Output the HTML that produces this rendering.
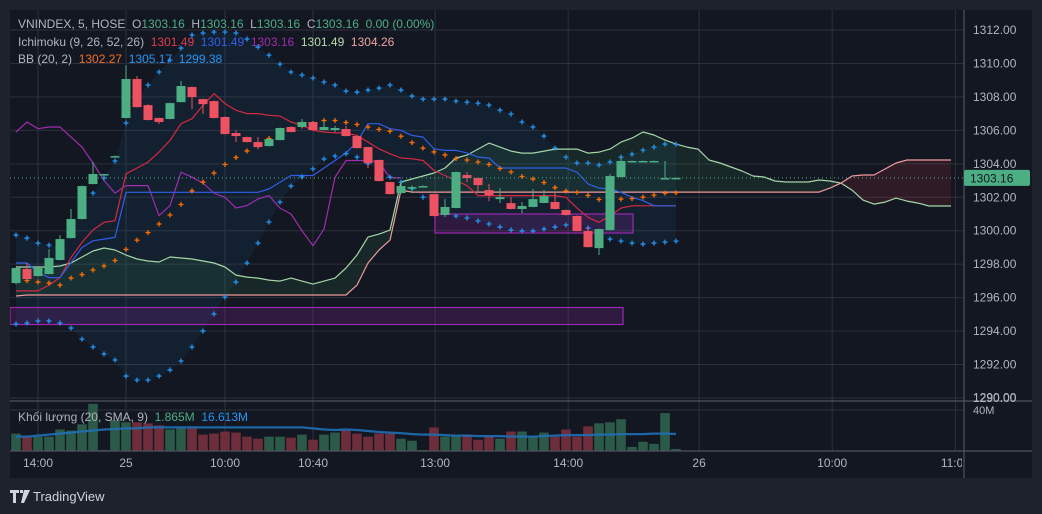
<!DOCTYPE html>
<html><head><meta charset="utf-8"><style>
html,body{margin:0;padding:0;background:#1e222d;width:1042px;height:514px;overflow:hidden}
svg{display:block;font-family:"Liberation Sans","Noto Sans CJK JP",sans-serif}
.lg text{white-space:pre}
</style></head><body>
<svg id="chart" width="1042" height="514" viewBox="0 0 1042 514">
<defs>
<clipPath id="plotClip"><rect x="10" y="10" width="954" height="391"/></clipPath>
<clipPath id="volClip"><rect x="10" y="402" width="954" height="49"/></clipPath>
<clipPath id="timeClip"><rect x="10" y="452" width="952" height="26"/></clipPath>
</defs>
<rect x="0" y="0" width="1042" height="514" fill="#1e222d"/>
<rect x="10" y="10" width="1022" height="468" fill="#131722"/>
<g id="grid"></g>
<g id="plot" clip-path="url(#plotClip)"></g>
<g id="vol" clip-path="url(#volClip)"></g>
<g id="axes"></g>
<g id="time" clip-path="url(#timeClip)"></g>
<g class="lg" font-size="12">
<text x="18" y="28"><tspan fill="#b2b5be">VNINDEX, 5, HOSE  O</tspan><tspan fill="#4caf84">1303.16</tspan><tspan fill="#b2b5be">  H</tspan><tspan fill="#4caf84">1303.16</tspan><tspan fill="#b2b5be">  L</tspan><tspan fill="#4caf84">1303.16</tspan><tspan fill="#b2b5be">  C</tspan><tspan fill="#4caf84">1303.16  0.00 (0.00%)</tspan></text>
<text x="18" y="46"><tspan fill="#b2b5be">Ichimoku (9, 26, 52, 26)  </tspan><tspan fill="#e03a4e">1301.49  </tspan><tspan fill="#2f5fe8">1301.49  </tspan><tspan fill="#a02cb0">1303.16  </tspan><tspan fill="#b7dcb0">1301.49  </tspan><tspan fill="#f0a3a3">1304.26</tspan></text>
<text x="18" y="63"><tspan fill="#b2b5be">BB (20, 2)  </tspan><tspan fill="#f07020">1302.27  </tspan><tspan fill="#2196f3">1305.17  1299.38</tspan></text>
<text x="18" y="421"><tspan fill="#b2b5be">Khối lượng (20, SMA, 9)  </tspan><tspan fill="#4caf84">1.865M  </tspan><tspan fill="#2196f3">16.613M</tspan></text>
</g>
<g>
<path d="M10 490h9v3h-3v10h-3v-10h-3z M20 490h3v3h-3z M24 490h6l-6 13h-3z" fill="#d1d4dc"/>
<text x="33" y="501" font-size="13" fill="#d1d4dc">TradingView</text>
</g>
</svg>
<script>
const opens=[1296.87,1297.71,1297.29,1297.41,1298.25,1299.56,1300.70,1302.79,1303.39,1304.46,1306.74,1309.07,1307.51,1306.74,1306.68,1307.69,1308.59,1307.87,1307.75,1306.80,1305.84,1305.60,1305.30,1305.06,1305.42,1306.20,1306.20,1306.50,1306.02,1306.02,1306.08,1305.66,1305.00,1304.23,1302.91,1302.25,1302.61,1302.67,1302.19,1300.94,1301.36,1303.33,1303.15,1302.43,1301.89,1301.65,1301.30,1301.42,1301.66,1301.72,1301.24,1300.88,1299.98,1298.96,1300.04,1303.21,1304.17,1304.17,1304.17,1303.15,1303.16];
const closes=[1297.77,1297.11,1297.77,1298.37,1299.50,1300.70,1302.67,1303.39,1303.39,1304.46,1309.07,1307.39,1306.62,1306.50,1307.63,1308.65,1307.99,1307.57,1306.74,1305.78,1305.66,1305.30,1305.00,1305.48,1306.14,1305.90,1306.50,1306.02,1306.20,1306.14,1305.66,1304.94,1304.05,1302.97,1302.19,1302.67,1302.61,1302.67,1300.88,1301.42,1303.51,1303.15,1302.73,1302.13,1302.01,1301.30,1301.48,1301.89,1302.07,1301.30,1300.94,1299.98,1299.02,1300.10,1303.27,1304.17,1304.17,1304.17,1304.17,1303.15,1303.16];
const highs=[1297.80,1298.07,1297.80,1298.90,1299.74,1301.30,1302.70,1304.10,1303.40,1304.50,1309.90,1309.25,1307.55,1306.76,1307.66,1308.95,1308.62,1307.90,1307.78,1306.82,1306.00,1305.62,1305.60,1305.50,1306.16,1306.22,1306.68,1306.52,1306.56,1306.26,1306.26,1305.68,1305.02,1304.25,1302.93,1302.91,1302.70,1302.70,1302.21,1301.90,1303.53,1303.51,1303.17,1302.79,1302.55,1302.01,1301.72,1302.49,1302.43,1302.25,1301.26,1300.90,1300.22,1300.12,1303.39,1304.40,1304.19,1304.19,1304.19,1304.17,1303.18];
const lows=[1296.80,1297.09,1297.27,1297.39,1298.23,1299.54,1300.68,1302.77,1303.37,1304.44,1306.70,1307.37,1306.60,1306.38,1306.66,1307.67,1307.27,1306.98,1306.72,1305.76,1305.30,1305.28,1304.88,1305.04,1305.40,1305.88,1306.18,1306.00,1306.00,1305.90,1305.64,1304.92,1303.75,1302.95,1302.17,1302.23,1302.25,1302.65,1300.86,1300.82,1301.34,1302.91,1302.37,1301.77,1301.65,1301.28,1301.06,1301.40,1301.64,1301.28,1300.92,1299.96,1299.00,1298.55,1300.02,1303.19,1304.15,1304.15,1304.15,1303.13,1303.14];
const volumes=[17,14,14,14,21,20,26,46,1,30,28,28,27,25,21,22,22,16,17,19,18,14,12,14,14,13,16,11,16,18,20,17,14,17,17,12,10,1,23,14,15,16,11,15,12,19,19,14,18,14,21,14,24,27,28,31,4,9,7,37,2];
const volSma=[14,14,15,16,17,18,19,20,21,21.5,22,22,23,23,23,23,23,23,23,23,23,23,23,23,23,23,23,22,21,20.5,21,20.5,19.5,18.5,18,17.5,16.5,16,16,15.5,15,15,14.5,14.5,14.5,14,14,14,14.5,15,15.5,15.5,15.5,16,16,16.5,16.5,16.5,17,17,16.6];
const tenkan=[1296.4,1296.4,1296.4,1296.75,1297.2,1298.4,1299.3,1300.05,1300.5,1300.6,1303.4,1303.75,1304.1,1304.7,1305.4,1306.4,1306.7,1307.5,1308.2,1307.6,1307.2,1307.0,1307.0,1306.9,1306.85,1306.5,1306.3,1306.0,1305.9,1305.85,1305.85,1305.7,1305.3,1304.9,1304.6,1304.35,1304.3,1304.2,1303.6,1303.3,1303.0,1302.7,1302.1,1302.1,1302.1,1302.1,1302.1,1302.1,1302.1,1302.1,1302.0,1301.35,1300.8,1300.5,1300.9,1301.35,1301.49,1301.49,1301.49,1301.49,1301.49];
const kijun=[1298.07,1298.07,1297.5,1297.2,1297.2,1298.1,1299.0,1299.4,1299.5,1299.6,1302.3,1302.3,1302.3,1302.3,1302.3,1302.3,1302.3,1302.3,1302.3,1302.3,1302.3,1302.3,1302.3,1302.5,1302.9,1303.3,1303.3,1303.3,1303.75,1304.2,1304.65,1305.3,1306.4,1306.4,1306.1,1306.0,1305.7,1305.6,1304.9,1304.8,1304.8,1304.65,1304.4,1304.35,1303.75,1303.75,1303.75,1303.75,1303.75,1303.75,1303.75,1303.5,1302.8,1302.55,1302.5,1302.3,1302.0,1301.8,1301.49,1301.49,1301.49];
const chikou=[1305.9,1306.5,1306.1,1306.2,1306.2,1305.6,1305.0,1304.05,1303.0,1302.25,1302.7,1302.7,1302.7,1300.9,1301.5,1303.5,1303.2,1302.85,1302.25,1302.0,1301.35,1301.5,1301.9,1302.1,1301.35,1301.0,1300.0,1299.1,1300.1,1303.2,1304.2,1304.2,1304.2,1304.1,1303.16,1303.16];
const spanA=[1297.83,1297.83,1297.83,1297.83,1297.89,1298.07,1298.43,1298.79,1298.97,1298.85,1298.55,1298.31,1298.19,1298.13,1298.43,1298.37,1298.31,1298.19,1298.07,1297.83,1297.35,1297.23,1297.17,1297.05,1296.99,1297.17,1296.99,1296.81,1296.99,1297.17,1297.77,1298.55,1299.62,1299.80,1300.04,1302.91,1303.09,1303.27,1303.45,1303.75,1304.35,1304.52,1304.88,1305.24,1305.00,1304.76,1304.64,1304.64,1304.76,1304.88,1304.88,1304.88,1304.64,1304.70,1304.88,1305.30,1305.54,1305.90,1305.72,1305.42,1305.18,1305.00,1304.88,1304.23,1304.05,1303.81,1303.57,1303.27,1303.21,1302.97,1302.91,1302.91,1302.91,1303.03,1302.97,1302.85,1302.43,1301.83,1301.59,1301.71,1301.95,1301.77,1301.65,1301.48,1301.48,1301.48];
const spanB=[1296.10,1296.16,1296.16,1296.16,1296.16,1296.16,1296.16,1296.16,1296.16,1296.16,1296.16,1296.16,1296.16,1296.16,1296.16,1296.16,1296.16,1296.16,1296.16,1296.16,1296.16,1296.16,1296.16,1296.16,1296.16,1296.16,1296.16,1296.16,1296.16,1296.16,1296.16,1296.75,1298.07,1298.85,1299.44,1302.43,1302.31,1302.31,1302.31,1302.31,1302.31,1302.31,1302.31,1302.31,1302.31,1302.31,1302.31,1302.31,1302.31,1302.31,1302.31,1302.31,1302.31,1302.31,1302.31,1302.31,1302.31,1302.31,1302.31,1302.31,1302.31,1302.31,1302.31,1302.31,1302.31,1302.31,1302.31,1302.31,1302.31,1302.31,1302.31,1302.31,1302.31,1302.31,1302.55,1302.85,1303.27,1303.33,1303.33,1303.69,1304.05,1304.23,1304.23,1304.23,1304.23,1304.23];
const bbUpper=[1299.74,1299.56,1299.26,1299.14,1299.02,1300.16,1301.24,1302.25,1303.15,1304.17,1306.44,1307.81,1308.71,1309.49,1310.20,1310.92,1311.70,1311.82,1311.88,1311.88,1311.82,1311.46,1310.98,1310.50,1309.96,1309.49,1309.31,1309.13,1308.89,1308.71,1308.35,1308.29,1308.41,1308.53,1308.71,1308.41,1308.05,1307.87,1307.87,1307.87,1307.75,1307.69,1307.63,1307.51,1307.21,1306.98,1306.50,1306.20,1305.66,1304.94,1304.40,1304.05,1304.05,1303.93,1304.11,1304.40,1304.58,1304.82,1305.00,1305.18,1305.17];
const bbLower=[1294.42,1294.48,1294.60,1294.60,1294.48,1294.18,1293.52,1293.05,1292.63,1292.27,1291.31,1291.07,1291.07,1291.31,1291.67,1292.21,1293.05,1294.00,1295.02,1296.03,1296.93,1298.07,1299.26,1300.52,1301.71,1302.67,1303.21,1303.69,1304.29,1304.46,1304.6,1304.4,1304.0,1303.6,1303.2,1302.9,1302.5,1302.0,1301.54,1301.18,1300.88,1300.76,1300.58,1300.40,1300.22,1300.04,1299.98,1299.98,1300.10,1300.22,1300.34,1300.52,1300.16,1299.80,1299.50,1299.38,1299.26,1299.20,1299.26,1299.32,1299.38];
const bbBasis=[1297.08,1297.02,1296.93,1296.87,1296.75,1297.17,1297.38,1297.65,1297.89,1298.22,1298.88,1299.44,1299.89,1300.40,1300.94,1301.57,1302.38,1302.91,1303.45,1303.96,1304.38,1304.77,1305.12,1305.51,1305.84,1306.08,1306.26,1306.41,1306.59,1306.59,1306.47,1306.35,1306.2,1306.06,1305.95,1305.65,1305.27,1304.94,1304.71,1304.53,1304.32,1304.23,1304.11,1303.96,1303.72,1303.51,1303.24,1303.09,1302.88,1302.58,1302.37,1302.29,1302.11,1301.87,1301.81,1301.89,1301.92,1302.01,1302.13,1302.25,1302.27];
const priceTicks=[1312,1310,1308,1306,1304,1302,1300,1298,1296,1294,1292,1290];
const timeLabels=['14:00','25','10:00','10:40','13:00','14:00','26','10:00','11:00'];
const timeIdx=[2,10,19,27,38.1,50.2,62.1,74.2,85.4];
const lastPrice=1303.16;

const NS='http://www.w3.org/2000/svg';
const X=i=>16+11*i;
const Y=p=>30+(1312-p)*16.727;
const VY=v=>451-v*41/40;
function mk(parent,tag,attrs){const e=document.createElementNS(NS,tag);for(const k in attrs)e.setAttribute(k,attrs[k]);parent.appendChild(e);return e;}
const grid=document.getElementById('grid'),plot=document.getElementById('plot'),vol=document.getElementById('vol'),axes=document.getElementById('axes'),time=document.getElementById('time');
const GC='#2c303b';
priceTicks.forEach(p=>{const l=mk(grid,'line',{x1:10,x2:964,y1:Y(p),y2:Y(p),stroke:GC,'stroke-width':1});

});
timeIdx.forEach(t=>{const l=mk(grid,'line',{x1:X(t),x2:X(t),y1:10,y2:451,stroke:GC,'stroke-width':1});

});
const vg=mk(grid,'line',{x1:10,x2:964,y1:VY(40),y2:VY(40),stroke:GC});


function poly(parent,pts){return pts.map(p=>p[0].toFixed(1)+','+p[1].toFixed(1)).join(' ');}
{const pts=[];bbUpper.forEach((v,i)=>pts.push([X(i),Y(v)]));for(let i=bbLower.length-1;i>=0;i--)pts.push([X(i),Y(bbLower[i])]);
const e=mk(plot,'polygon',{points:poly(plot,pts),fill:'rgba(33,150,243,0.07)'});

}
for(let i=0;i<spanA.length-1;i++){const a0=spanA[i]-spanB[i],a1=spanA[i+1]-spanB[i+1];
const col=s=>s>=0?'rgba(76,175,80,0.11)':'rgba(242,54,69,0.13)';
let segs=[];
if(a0*a1>=0){segs.push([[[X(i),Y(spanA[i])],[X(i+1),Y(spanA[i+1])],[X(i+1),Y(spanB[i+1])],[X(i),Y(spanB[i])]],a0+a1]);}
else{const t=a0/(a0-a1);const xm=X(i+t),ym=Y(spanA[i]+(spanA[i+1]-spanA[i])*t);
segs.push([[[X(i),Y(spanA[i])],[xm,ym],[X(i),Y(spanB[i])]],a0]);segs.push([[[xm,ym],[X(i+1),Y(spanA[i+1])],[X(i+1),Y(spanB[i+1])]],a1]);}
segs.forEach(s=>{const e=mk(plot,'polygon',{points:poly(plot,s[0]),fill:col(s[1])});

});}
const z1=mk(plot,'rect',{x:10,y:307.5,width:613,height:17,fill:'rgba(156,39,176,0.2)',stroke:'#9c27b0','stroke-width':1.2});


const z2=mk(plot,'rect',{x:435,y:214,width:198,height:19,fill:'rgba(156,39,176,0.2)',stroke:'#9c27b0','stroke-width':1.2});


function line(arr,color,name,w,off){const d=arr.map((v,i)=>(i?'L':'M')+X(i+(off||0)).toFixed(1)+' '+Y(v).toFixed(1)).join('');
const e=mk(plot,'path',{d:d,fill:'none',stroke:color,'stroke-width':w||1.2,'stroke-linejoin':'round'});

}
line(spanA,'#a5d6a7','senkou-span-a');
line(spanB,'#ef9a9a','senkou-span-b');
line(chikou,'#a02cb0','chikou-span');
line(tenkan,'#d8283f','tenkan-sen');
line(kijun,'#2f5fe8','kijun-sen');
function dots(arr,color,name){arr.forEach((v,i)=>{const x=X(i),y=Y(v);
const e=mk(plot,'path',{d:`M${x-2.5} ${y}h5M${x} ${y-2.5}v5`,stroke:color,'stroke-width':1.3});

});}
dots(bbUpper,'#2196f3','bb-upper-dot');
dots(bbLower,'#2196f3','bb-lower-dot');
dots(bbBasis,'#ff6d00','bb-basis-dot');
opens.forEach((o,i)=>{const c=closes[i],up=c>=o,col=up?'#4caf84':'#ef5062';const x=X(i);
const w=mk(plot,'line',{x1:x,x2:x,y1:Y(highs[i]),y2:Y(lows[i]),stroke:col,'stroke-width':1});


const top=Y(Math.max(o,c)),h=Math.max(1.5,Math.abs(Y(o)-Y(c)));
const b=mk(plot,'rect',{x:x-4.5,y:top,width:9,height:h,fill:col});

});
const lp=mk(plot,'line',{x1:10,x2:964,y1:Y(lastPrice),y2:Y(lastPrice),stroke:'#4caf84','stroke-width':1,'stroke-dasharray':'1 3'});


volumes.forEach((v,i)=>{const up=closes[i]>=opens[i];
const r=mk(vol,'rect',{x:X(i)-4.8,y:VY(v),width:9.6,height:451-VY(v),fill:up?'#2b5a48':'#6e2d3b'});

});
{const d=volSma.map((v,i)=>(i?'L':'M')+X(i).toFixed(1)+' '+VY(v).toFixed(1)).join('');
const e=mk(vol,'path',{d:d,fill:'none',stroke:'#1f6fb5','stroke-width':2.2,opacity:0.9});

}
const ax=[[964,10,964,478,'price-axis-line'],[10,401,1032,401,'pane-separator'],[10,451,1032,451,'time-axis-line']];
ax.forEach(a=>{const e=mk(axes,'line',{x1:a[0],y1:a[1],x2:a[2],y2:a[3],stroke:'#50535e','stroke-width':1.2});

});
priceTicks.forEach(p=>{const y=Y(p);if(y>399)return;const t=mk(axes,'text',{x:973,y:y+4,'font-size':12,fill:'#b2b5be'});t.textContent=p.toFixed(2);

});
{const t=mk(axes,'text',{x:973,y:401.5,'font-size':12,fill:'#b2b5be'});t.textContent='1290.00';

}
{const t=mk(axes,'text',{x:973,y:414,'font-size':11,fill:'#b2b5be'});t.textContent='40M';

}
{const y=Y(lastPrice);const r=mk(axes,'rect',{x:964,y:y-8,width:66,height:16,rx:2,fill:'#4caf84'});


const t=mk(axes,'text',{x:970,y:y+4.5,'font-size':12,fill:'#131722'});t.textContent=lastPrice.toFixed(2);

}
timeLabels.forEach((s,k)=>{const t=mk(time,'text',{x:X(timeIdx[k]),y:467,'font-size':12,fill:'#b2b5be','text-anchor':'middle'});t.textContent=s;

});
</script>
</body></html>
